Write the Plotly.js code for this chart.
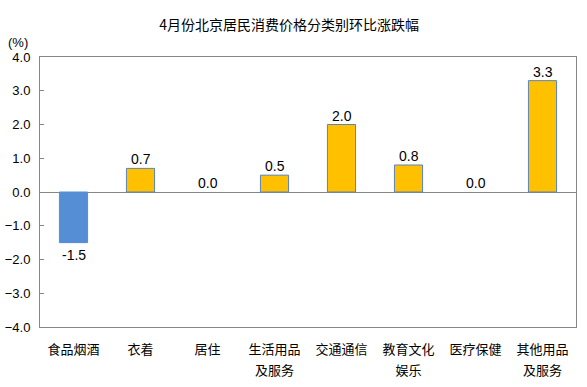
<!DOCTYPE html>
<html><head><meta charset="utf-8">
<script src="https://cdn.plot.ly/plotly-3.0.1.min.js"></script>
<style>body{margin:0}#c{width:587px;height:387px}</style>
</head><body><div id="c"></div>
<script>
const categoryLine1 = ['食品烟酒','衣着','居住','生活用品','交通通信','教育文化','医疗保健','其他用品'];
const categoryLine2 = ['','','','及服务','','娱乐','','及服务'];
const values = [-1.5, 0.7, 0.0, 0.5, 2.0, 0.8, 0.0, 3.3];
const yTicks = [-4,-3,-2,-1,0,1,2,3,4];

const idx = categoryLine1.map((c,i)=>i);
const n = categoryLine1.length;
const barColors = values.map(v => v < 0 ? '#558ED5' : '#FFC000');
const lineColors = values.map(v => v < 0 ? '#558ED5' : '#5B83B8');
const lineWidths = values.map(v => v === 0 ? 0 : 1);
const bars = {
  type:'bar', x: idx, y: values, width: 0.42,
  marker:{color: barColors, line:{color: lineColors, width: lineWidths}},
  hoverinfo:'none'
};
const valueLabels = values.map((v,i) => ({
  x: i, y: v, xref:'x', yref:'y', text: v.toFixed(1), showarrow:false,
  xanchor:'center', yanchor:'middle', yshift: v < 0 ? -12 : 9,
  font:{family:'Liberation Sans, Arial', size:14, color:'#000'}
}));
const catFont = {family:'Noto Sans CJK SC', size:13, color:'#000'};
const layout = {
  width:587, height:387,
  margin:{l:40, r:11, t:57, b:60},
  paper_bgcolor:'#fff', plot_bgcolor:'#fff',
  showlegend:false,
  title:{text:'4月份北京居民消费价格分类别环比涨跌幅', xref:'paper', x:0.465, xanchor:'center',
    yref:'container', y:0.935, yanchor:'middle',
    font:{family:'Noto Sans CJK SC', size:14, color:'#000'}},
  xaxis:{range:[-0.5, n-0.5], tickvals: idx, ticktext: categoryLine1,
    showline:true, mirror:true, linecolor:'#868686', linewidth:1, ticks:'', showgrid:false, zeroline:false,
    ticklabelstandoff: 10, tickfont: catFont, fixedrange:true},
  xaxis2:{overlaying:'x', anchor:'free', position:0.5, range:[-0.5, n-0.5],
    tickvals: idx.slice(1).map(i => i-0.5), showticklabels:false, ticks:'inside', ticklen:4,
    tickcolor:'#868686', showline:false, showgrid:false, zeroline:false},
  xaxis3:{overlaying:'x', anchor:'y', side:'bottom', range:[-0.5, n-0.5],
    tickvals: idx, ticktext: categoryLine2, ticks:'', showline:false, showgrid:false, zeroline:false,
    ticklabelstandoff: 34, tickfont: catFont},
  yaxis:{range:[-4,4], tickvals:yTicks, tickformat:'.1f', ticks:'inside', ticklen:4, tickcolor:'#868686',
    showline:true, mirror:true, linecolor:'#868686', linewidth:1, showgrid:false,
    zeroline:true, zerolinecolor:'#868686', zerolinewidth:1, ticklabelstandoff: 6,
    tickfont:{family:'Liberation Sans, Arial', size:13, color:'#000'}, fixedrange:true},
  annotations: valueLabels.concat([{text:'(%)', xref:'paper', yref:'paper', x:-0.041, y:1.052, xanchor:'center', yanchor:'middle',
    showarrow:false, font:{family:'Liberation Sans, Arial', size:13, color:'#000'}}])
};
Plotly.newPlot('c', [bars, {type:'scatter', x:[], y:[], xaxis:'x3', hoverinfo:'none'}], layout, {staticPlot:true});
</script></body></html>
